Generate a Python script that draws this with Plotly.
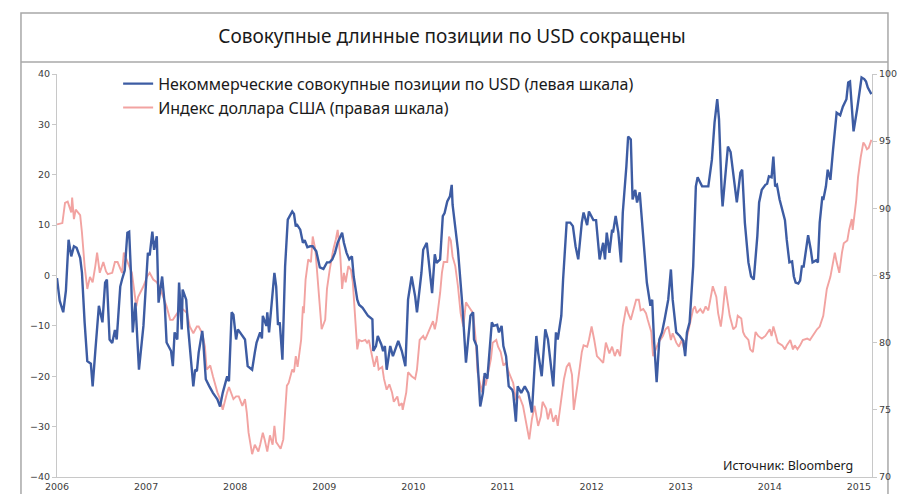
import plotly.graph_objects as go

# ---- data (decimal years) ----
cot_time = [2006.00, 2006.03, 2006.07, 2006.10, 2006.13, 2006.16, 2006.19, 2006.22, 2006.26, 2006.28,
            2006.31, 2006.34, 2006.38, 2006.40, 2006.43, 2006.47, 2006.51, 2006.54, 2006.56, 2006.59,
            2006.62, 2006.65, 2006.67, 2006.71, 2006.73, 2006.76, 2006.79, 2006.81, 2006.83, 2006.85,
            2006.88, 2006.92, 2006.97, 2007.02, 2007.04, 2007.07, 2007.09, 2007.12, 2007.14, 2007.18,
            2007.21, 2007.23, 2007.28, 2007.30, 2007.32, 2007.35, 2007.37, 2007.40, 2007.41, 2007.45,
            2007.47, 2007.49, 2007.53, 2007.55, 2007.57, 2007.59, 2007.63, 2007.64, 2007.67, 2007.71,
            2007.75, 2007.80, 2007.83, 2007.86, 2007.91, 2007.93, 2007.96, 2007.98, 2008.01, 2008.03,
            2008.08, 2008.11, 2008.14, 2008.19, 2008.22, 2008.24, 2008.28, 2008.30, 2008.31, 2008.35,
            2008.36, 2008.38, 2008.41, 2008.44, 2008.46, 2008.48, 2008.50, 2008.53, 2008.56, 2008.59,
            2008.64, 2008.66, 2008.68, 2008.69, 2008.73, 2008.76, 2008.78, 2008.81, 2008.84, 2008.87,
            2008.91, 2008.95, 2008.99, 2009.03, 2009.06, 2009.09, 2009.12, 2009.15, 2009.20, 2009.22,
            2009.25, 2009.28, 2009.31, 2009.33, 2009.37, 2009.39, 2009.43, 2009.49, 2009.54, 2009.55,
            2009.58, 2009.60, 2009.64, 2009.66, 2009.68, 2009.70, 2009.74, 2009.77, 2009.79, 2009.83,
            2009.87, 2009.91, 2009.94, 2009.98, 2010.02, 2010.04, 2010.09, 2010.11, 2010.15, 2010.18,
            2010.21, 2010.24, 2010.26, 2010.30, 2010.33, 2010.35, 2010.38, 2010.41, 2010.43, 2010.44,
            2010.47, 2010.50, 2010.55, 2010.59, 2010.64, 2010.67, 2010.68, 2010.71, 2010.75, 2010.78,
            2010.80, 2010.83, 2010.88, 2010.90, 2010.94, 2010.96, 2010.99, 2011.01, 2011.04, 2011.07,
            2011.11, 2011.12, 2011.15, 2011.17, 2011.21, 2011.25, 2011.29, 2011.33, 2011.38, 2011.40,
            2011.44, 2011.48, 2011.51, 2011.54, 2011.57, 2011.60, 2011.62, 2011.66, 2011.68, 2011.72,
            2011.76, 2011.79, 2011.82, 2011.85, 2011.89, 2011.91, 2011.95, 2011.97, 2012.02, 2012.05,
            2012.07, 2012.09, 2012.13, 2012.15, 2012.17, 2012.20, 2012.23, 2012.24, 2012.27, 2012.30,
            2012.33, 2012.35, 2012.39, 2012.41, 2012.44, 2012.46, 2012.49, 2012.51, 2012.54, 2012.58,
            2012.62, 2012.66, 2012.68, 2012.70, 2012.73, 2012.76, 2012.79, 2012.82, 2012.86, 2012.89,
            2012.91, 2012.95, 2012.99, 2013.03, 2013.05, 2013.07, 2013.10, 2013.14, 2013.17, 2013.19,
            2013.24, 2013.27, 2013.31, 2013.35, 2013.38, 2013.41, 2013.43, 2013.46, 2013.47, 2013.51,
            2013.53, 2013.56, 2013.59, 2013.63, 2013.67, 2013.69, 2013.72, 2013.76, 2013.79, 2013.82,
            2013.86, 2013.88, 2013.91, 2013.95, 2013.97, 2013.99, 2014.02, 2014.04, 2014.06, 2014.08,
            2014.11, 2014.15, 2014.17, 2014.19, 2014.22, 2014.25, 2014.27, 2014.29, 2014.32, 2014.34,
            2014.36, 2014.38, 2014.42, 2014.43, 2014.46, 2014.48, 2014.52, 2014.54, 2014.56, 2014.59,
            2014.60, 2014.63, 2014.65, 2014.68, 2014.71, 2014.73, 2014.75, 2014.79, 2014.82, 2014.86,
            2014.88, 2014.90, 2014.92, 2014.94, 2014.98, 2015.00, 2015.03, 2015.06, 2015.08, 2015.10,
            2015.14]
cot_positions = [-0.5, -5.0, -7.3, -3.0, 7.1, 3.8, 5.8, 5.5, 3.5, 0.6,
                 -9.3, -17.0, -17.5, -22.0, -15.0, -6.0, -9.3, -1.4, -0.8, -12.7,
                 -13.4, -10.8, -12.7, -2.2, -0.8, 1.0, 8.5, 8.7, 0.5, -11.3,
                 -5.4, -18.7, -10.0, 4.5, 4.0, 8.7, 5.1, 7.8, -5.4, -0.2,
                 -6.0, -13.3, -15.0, -18.0, -11.3, -12.7, -1.4, -10.7, -2.8, -4.8,
                 -10.0, -14.0, -22.0, -18.7, -19.0, -15.3, -11.0, -12.7, -20.6, -22.0,
                 -23.3, -24.6, -26.0, -23.3, -20.0, -21.0, -7.3, -7.8, -12.7, -10.7,
                 -12.0, -12.7, -18.0, -18.7, -15.3, -13.3, -11.3, -12.5, -8.0, -10.0,
                 -7.3, -11.3, -5.4, 0.5, -2.2, -9.8, -9.3, -16.7, 1.8, 11.1,
                 12.7, 12.2, 9.7, 10.2, 9.1, 6.5, 7.0, 5.6, 5.8, 5.8,
                 4.8, 1.6, 1.3, 2.6, 2.6, 3.2, 4.5, 6.5, 8.5, 6.5,
                 4.5, 3.2, 3.8, -0.2, -4.8, -5.8, -6.4, -8.0, -8.7, -15.0,
                 -14.0, -12.0, -13.7, -15.0, -14.0, -18.7, -14.0, -16.0, -15.0, -13.0,
                 -15.0, -18.0, -4.8, -0.2, -4.2, -7.3, 0.5, 5.1, 6.5, 1.8,
                 -3.5, 4.2, 2.5, 3.2, 11.8, 12.4, 14.7, 15.7, 18.0, 14.0,
                 9.1, 5.1, -6.0, -17.3, -8.0, -7.3, -12.7, -14.0, -26.0, -23.3,
                 -19.4, -20.5, -9.3, -10.0, -9.8, -11.3, -10.0, -14.0, -16.0, -22.0,
                 -22.7, -23.3, -29.0, -22.0, -23.3, -22.0, -23.3, -27.2, -12.0, -15.3,
                 -20.0, -10.7, -12.7, -18.0, -22.0, -11.3, -12.7, -8.0, -0.8, 10.5,
                 10.5, 9.8, 5.8, 3.2, 10.5, 12.5, 10.0, 12.7, 11.0, 11.0,
                 7.1, 3.2, 6.5, 3.2, 8.5, 4.5, 9.1, 8.5, 11.8, 8.5,
                 2.6, 12.5, 21.6, 27.6, 27.0, 15.1, 17.0, 14.5, 16.5, 7.1,
                 -1.4, -6.0, -4.8, -12.7, -21.2, -12.7, -11.3, -8.7, -4.8, 1.2,
                 -4.8, -11.3, -12.0, -13.0, -16.0, -11.3, -9.3, 1.8, 17.7, 19.5,
                 17.7, 17.7, 17.7, 23.0, 30.4, 35.0, 31.0, 16.5, 13.7, 21.6,
                 25.6, 24.5, 20.4, 14.5, 20.4, 21.0, 10.5, 2.6, -0.2, -0.8,
                 7.8, 14.5, 17.0, 18.0, 18.2, 19.7, 19.5, 23.6, 17.7, 18.0,
                 15.1, 12.5, 11.0, 7.1, 2.6, 2.8, -0.2, -1.4, -1.6, -1.0,
                 1.8, 1.8, 7.1, 8.0, 5.1, 2.6, 3.0, 2.6, 10.5, 15.7,
                 15.0, 17.7, 21.0, 19.0, 25.0, 29.6, 32.3, 31.8, 33.5, 35.0,
                 38.3, 38.5, 32.3, 28.6, 33.0, 35.5, 39.3, 39.0, 38.5, 37.3,
                 36.0]

dxy_time = [2006.00, 2006.06, 2006.09, 2006.12, 2006.16, 2006.17, 2006.19, 2006.21, 2006.26, 2006.28,
            2006.31, 2006.34, 2006.37, 2006.40, 2006.43, 2006.45, 2006.48, 2006.52, 2006.55, 2006.57,
            2006.62, 2006.65, 2006.68, 2006.73, 2006.75, 2006.79, 2006.81, 2006.84, 2006.86, 2006.89,
            2006.91, 2006.94, 2006.97, 2007.01, 2007.04, 2007.08, 2007.12, 2007.16, 2007.19, 2007.23,
            2007.27, 2007.30, 2007.35, 2007.38, 2007.41, 2007.46, 2007.49, 2007.53, 2007.57, 2007.59,
            2007.63, 2007.66, 2007.68, 2007.72, 2007.75, 2007.80, 2007.83, 2007.86, 2007.91, 2007.93,
            2007.98, 2008.01, 2008.04, 2008.08, 2008.11, 2008.13, 2008.15, 2008.19, 2008.22, 2008.26,
            2008.28, 2008.31, 2008.33, 2008.36, 2008.39, 2008.42, 2008.44, 2008.46, 2008.48, 2008.51,
            2008.54, 2008.58, 2008.60, 2008.64, 2008.66, 2008.68, 2008.70, 2008.74, 2008.76, 2008.77,
            2008.79, 2008.82, 2008.85, 2008.87, 2008.90, 2008.92, 2008.95, 2008.97, 2009.01, 2009.03,
            2009.06, 2009.10, 2009.13, 2009.15, 2009.18, 2009.20, 2009.22, 2009.24, 2009.27, 2009.30,
            2009.32, 2009.34, 2009.37, 2009.39, 2009.42, 2009.46, 2009.48, 2009.50, 2009.54, 2009.56,
            2009.59, 2009.61, 2009.65, 2009.67, 2009.70, 2009.73, 2009.76, 2009.78, 2009.82, 2009.84,
            2009.87, 2009.88, 2009.92, 2009.94, 2009.98, 2010.02, 2010.04, 2010.07, 2010.11, 2010.13,
            2010.15, 2010.19, 2010.22, 2010.24, 2010.26, 2010.30, 2010.32, 2010.34, 2010.38, 2010.40,
            2010.42, 2010.44, 2010.47, 2010.50, 2010.53, 2010.56, 2010.59, 2010.62, 2010.67, 2010.70,
            2010.72, 2010.77, 2010.79, 2010.81, 2010.84, 2010.87, 2010.89, 2010.93, 2010.95, 2010.98,
            2011.01, 2011.04, 2011.07, 2011.12, 2011.15, 2011.19, 2011.23, 2011.26, 2011.30, 2011.33,
            2011.36, 2011.40, 2011.43, 2011.45, 2011.49, 2011.51, 2011.54, 2011.57, 2011.60, 2011.62,
            2011.67, 2011.69, 2011.72, 2011.75, 2011.78, 2011.80, 2011.84, 2011.86, 2011.89, 2011.91,
            2011.95, 2011.97, 2012.00, 2012.03, 2012.06, 2012.09, 2012.13, 2012.16, 2012.20, 2012.23,
            2012.26, 2012.29, 2012.32, 2012.35, 2012.39, 2012.41, 2012.44, 2012.46, 2012.50, 2012.53,
            2012.55, 2012.58, 2012.61, 2012.63, 2012.67, 2012.69, 2012.72, 2012.75, 2012.80, 2012.83,
            2012.86, 2012.89, 2012.91, 2012.95, 2012.98, 2013.01, 2013.04, 2013.07, 2013.09, 2013.14,
            2013.16, 2013.18, 2013.22, 2013.25, 2013.28, 2013.31, 2013.34, 2013.36, 2013.40, 2013.42,
            2013.45, 2013.47, 2013.50, 2013.52, 2013.55, 2013.59, 2013.62, 2013.64, 2013.68, 2013.70,
            2013.72, 2013.76, 2013.78, 2013.81, 2013.84, 2013.87, 2013.91, 2013.95, 2013.97, 2014.00,
            2014.02, 2014.04, 2014.07, 2014.09, 2014.14, 2014.17, 2014.19, 2014.23, 2014.26, 2014.28,
            2014.31, 2014.34, 2014.37, 2014.42, 2014.45, 2014.48, 2014.53, 2014.56, 2014.60, 2014.62,
            2014.64, 2014.68, 2014.71, 2014.73, 2014.75, 2014.78, 2014.81, 2014.83, 2014.87, 2014.89,
            2014.92, 2014.93, 2014.97, 2014.99, 2015.02, 2015.05, 2015.07, 2015.09, 2015.11, 2015.14]
dxy_index = [88.8, 88.9, 90.4, 90.5, 89.7, 90.8, 89.2, 89.9, 89.5, 88.2,
             85.7, 84.0, 84.9, 84.5, 85.7, 86.7, 85.2, 86.0, 85.3, 85.1,
             85.2, 86.0, 86.0, 85.2, 86.7, 86.0, 85.7, 85.2, 84.2, 82.7,
             83.4, 83.8, 84.2, 84.9, 85.2, 84.7, 84.5, 84.0, 83.4, 82.7,
             81.7, 81.7, 82.2, 82.4, 82.5, 82.2, 81.2, 80.7, 81.2, 81.2,
             80.7, 79.7, 78.0, 78.3, 77.5, 76.3, 75.8, 75.0, 76.3, 76.7,
             75.8, 76.0, 76.0, 75.3, 75.8, 74.8, 73.3, 71.7, 72.4, 71.9,
             72.4, 73.3, 72.8, 71.9, 73.1, 72.4, 73.8, 72.6, 72.4, 72.1,
             72.8, 76.8, 77.0, 78.0, 77.8, 79.0, 78.2, 80.2, 82.7, 82.2,
             84.7, 86.2, 86.0, 87.9, 86.9, 85.2, 82.2, 81.0, 81.7, 84.0,
             85.4, 86.9, 87.7, 88.4, 86.4, 84.0, 85.2, 84.5, 85.7, 85.4,
             84.5, 82.5, 79.5, 80.2, 80.1, 80.2, 80.0, 80.2, 79.0, 78.2,
             79.0, 78.0, 78.2, 77.3, 76.5, 76.9, 76.3, 75.6, 76.0, 75.3,
             75.5, 75.0, 76.3, 77.8, 77.5, 77.3, 78.0, 80.2, 80.5, 80.2,
             80.5, 81.2, 81.6, 81.0, 81.6, 83.7, 85.2, 86.0, 86.0, 87.9,
             87.6, 86.4, 85.7, 84.2, 82.2, 81.2, 83.0, 82.7, 82.2, 80.2,
             77.8, 76.3, 77.5, 76.8, 77.8, 78.8, 80.0, 80.2, 79.7, 79.3,
             78.3, 78.5, 77.8, 77.0, 75.8, 76.0, 75.3, 74.1, 72.8, 74.3,
             75.3, 73.8, 74.5, 75.6, 75.1, 74.3, 75.1, 74.1, 74.6, 73.8,
             76.3, 77.3, 78.2, 78.5, 77.6, 75.0, 76.8, 77.8, 79.3, 79.8,
             79.7, 80.2, 81.2, 80.2, 79.0, 78.8, 78.5, 80.0, 79.2, 79.7,
             79.0, 79.5, 79.0, 81.2, 82.7, 82.2, 81.7, 82.2, 83.2, 83.2,
             82.4, 82.5, 82.2, 81.7, 80.8, 79.0, 79.5, 80.0, 80.5, 81.0,
             81.2, 80.2, 80.7, 80.0, 79.7, 80.2, 79.5, 80.5, 81.0, 82.5,
             82.7, 82.2, 82.5, 82.2, 82.7, 82.4, 83.7, 84.2, 83.4, 82.2,
             81.2, 82.2, 84.2, 83.2, 82.0, 81.0, 81.2, 82.0, 81.8, 80.8,
             80.5, 80.2, 79.5, 79.3, 80.8, 80.5, 80.3, 80.5, 80.7, 81.0,
             80.5, 81.2, 80.5, 80.0, 79.8, 79.5, 79.8, 80.2, 79.5, 79.8,
             79.5, 79.8, 80.2, 80.3, 80.2, 80.5, 81.0, 81.2, 82.0, 83.0,
             84.0, 84.9, 86.0, 86.7, 86.0, 85.2, 86.7, 87.4, 87.6, 88.4,
             89.2, 88.4, 90.6, 92.3, 93.8, 94.9, 94.7, 94.4, 94.5, 95.1]

year_ticks = [2006, 2007, 2008, 2009, 2010, 2011, 2012, 2013, 2014, 2015]
year_labels = ["2006", "2007", "2008", "2009", "2010", "2011", "2012", "2013", "2014", "2015"]
left_ticks = [-40, -30, -20, -10, 0, 10, 20, 30, 40]
right_ticks = [70, 75, 80, 85, 90, 95, 100]

title_text = "Совокупные длинные позиции по USD сокращены"
name_cot = "Некоммерческие совокупные позиции по USD (левая шкала)"
name_dxy = "Индекс доллара США (правая шкала)"
source_text = "Источник: Bloomberg"

BLUE = "#3D5CA3"
PINK = "#F2A3A1"
AXIS = "#C8C8C8"
TICKFONT = dict(family="DejaVu Sans", size=9.5, color="#404040")

fig = go.Figure()
fig.add_trace(go.Scatter(x=cot_time, y=cot_positions, name=name_cot, mode="lines",
                         line=dict(color=BLUE, width=2.4), yaxis="y2"))
fig.add_trace(go.Scatter(x=dxy_time, y=dxy_index, name=name_dxy, mode="lines",
                         line=dict(color=PINK, width=1.9), yaxis="y"))

fig.update_layout(
    width=904, height=494,
    margin=dict(l=57, r=32, t=74, b=17),
    paper_bgcolor="white", plot_bgcolor="white",
    title=dict(text=title_text, x=0.5, xanchor="center", y=1 - 36 / 494, yanchor="middle",
               font=dict(family="Noto Sans", size=19, color="#1a1a1a")),
    xaxis=dict(range=[2006, 2015.147], tickvals=year_ticks, ticktext=year_labels,
               showgrid=False, zeroline=False, showline=True, linecolor=AXIS, linewidth=1,
               ticks="", tickfont=TICKFONT, ticklabelstandoff=1, automargin=False),
    yaxis=dict(range=[70, 100], tickvals=right_ticks, side="right", showgrid=False,
               zeroline=False, showline=True, linecolor=AXIS, linewidth=1,
               ticks="outside", ticklen=4, tickcolor=AXIS, tickfont=TICKFONT, automargin=False),
    yaxis2=dict(range=[-40, 40], tickvals=left_ticks, side="left", overlaying="y",
                showgrid=False, zeroline=False, showline=True, linecolor=AXIS, linewidth=1,
                ticks="outside", ticklen=4, tickcolor=AXIS, tickfont=TICKFONT, automargin=False),
    legend=dict(x=0.075, y=1.018, xanchor="left", yanchor="top", bgcolor="rgba(0,0,0,0)",
                font=dict(family="Noto Sans", size=16, color="#1a1a1a"),
                itemwidth=30, tracegroupgap=0),
    showlegend=True,
)

# outer frame and title separator
fig.add_shape(type="rect", xref="paper", yref="paper", x0=-0.0442, x1=1.0196, y0=-0.1, y1=1.1514,
              line=dict(color="#A8A8A8", width=1.5), layer="below")
fig.add_shape(type="line", xref="paper", yref="paper", x0=-0.0442, x1=1.0196, y0=1.030, y1=1.030,
              line=dict(color="#A8A8A8", width=1.5))

fig.add_annotation(text=source_text, xref="paper", yref="paper", x=0.979, y=0.028,
                   xanchor="right", yanchor="middle", showarrow=False,
                   font=dict(family="Noto Sans", size=12.5, color="#1a1a1a"))

fig.write_html("out.html")
